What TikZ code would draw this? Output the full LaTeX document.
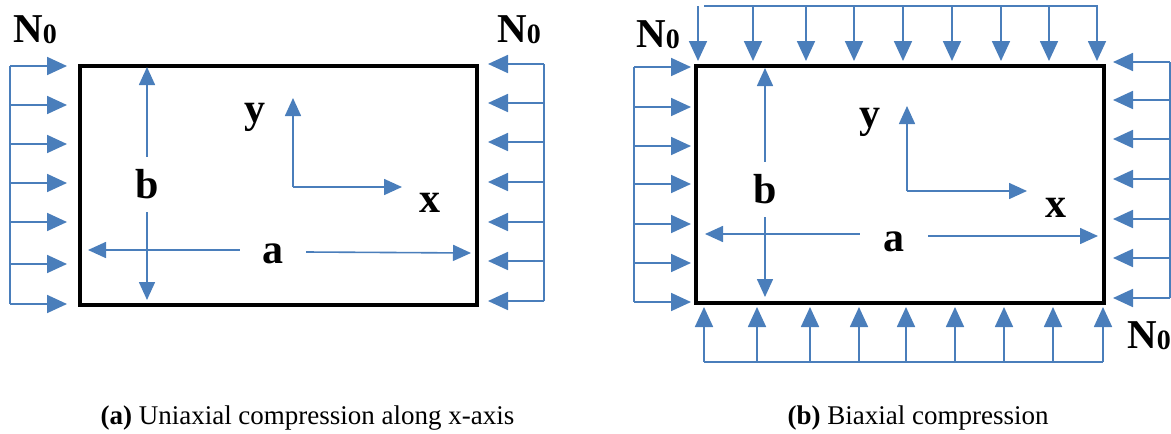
\documentclass[tikz,border=0pt]{standalone}
\usepackage{fontspec}
\setmainfont{Liberation Serif}
\usetikzlibrary{positioning,arrows.meta}
\definecolor{loadblue}{RGB}{74,126,187}
\newcommand{\Nzero}{N\raisebox{-1.5pt}{\fontsize{28}{28}\selectfont 0}}

\begin{document}
\begin{tikzpicture}[
	x=1pt,y=-1pt,
	plate/.style={
		draw=black,
		line width=3.5pt,
		inner sep=0pt
	},
	load/.style={-{Triangle[length=20pt,width=18pt]},color=loadblue,line width=1.8pt},
	spine/.style={draw=loadblue,line width=1.8pt},
	dim/.style={-{Triangle[length=18pt,width=16pt]},color=loadblue,line width=1.6pt},
	lbl/.style={font=\fontsize{42}{42}\selectfont\bfseries,inner sep=0pt},
	force/.style={font=\fontsize{41}{41}\selectfont\bfseries,inner sep=0pt,anchor=base},
	caption/.style={font=\fontsize{27}{27}\selectfont,inner sep=0pt,anchor=base}
	]
	
	\useasboundingbox (0,0) rectangle (1171,434);
	
	% (a) uniaxial
	\node[plate,minimum width=397pt,minimum height=239pt] (plateA) at (278.5,185.5) {};
	
	\draw[spine] (10,66) -- (10,304);
	\foreach \y in {66,105,144,183,222,264,304}
		\draw[load] (10,\y) -- (67,\y);
	
	\draw[spine] (544,64) -- (544,301);
	\foreach \y in {64,103,142,182,222,261,301}
		\draw[load] (544,\y) -- (488,\y);
	
	\node[force] (nAleft) at (35,42) {\Nzero};
	\node[force] (nAright) at (519,42) {\Nzero};
	
	\node[lbl,minimum height=55pt] (bA) at (147,184.5) {b};
	\coordinate (bAtop) at (147,67);
	\coordinate (bAbot) at (147,300);
	\draw[dim] (bA) -- (bAtop);
	\draw[dim] (bA) -- (bAbot);
	
	\node[lbl,minimum width=66pt] (aA) at (273,254) {a};
	\coordinate (aAleft) at (88,250);
	\coordinate (aAright) at (471,253);
	\draw[dim] (aA.west |- aAleft) -- (aAleft);
	\draw[dim] (aA.east |- 0,252) -- (aAright);
	
	\coordinate (oA) at (293,187);
	\coordinate (yAtip) at (293,98);
	\coordinate (xAtip) at (402,187);
	\draw[dim] (oA) -- (yAtip);
	\draw[dim] (oA) -- (xAtip);
	\node[lbl] (yA) at (255,117) {y};
	\node[lbl] (xA) at (430,203) {x};
	
	\node[caption] (capA) at (307.5,424) {\textbf{(a)} Uniaxial compression along x-axis};
	
	% (b) biaxial
	\node[plate,minimum width=408pt,minimum height=237pt] (plateB) at (900,184.5) {};
	
	\draw[spine] (634,67) -- (634,302);
	\foreach \y in {67,107,146,184,224,263,302}
		\draw[load] (634,\y) -- (691,\y);
	
	\draw[spine] (1170,62) -- (1170,298);
	\foreach \y in {62,100,139,179,219,258,298}
		\draw[load] (1170,\y) -- (1113,\y);
	
	\draw[spine] (704,6) -- (1098,6);
	\foreach \x in {698,753,806,854,903,952,1001,1049,1097}
		\draw[load] (\x,6) -- (\x,61);
	
	\draw[spine] (704,362) -- (1103,362);
	\foreach \x in {704,757,810,859,906,955,1004,1053,1103}
		\draw[load] (\x,362) -- (\x,307);
	
	\node[force] (nBtop) at (658,47) {\Nzero};
	\node[force] (nBbot) at (1149,348) {\Nzero};
	
	\node[lbl,minimum height=55pt] (bB) at (765,189.5) {b};
	\coordinate (bBtop) at (765,68);
	\coordinate (bBbot) at (765,297);
	\draw[dim] (bB) -- (bBtop);
	\draw[dim] (bB) -- (bBbot);
	
	\node[lbl,minimum width=68pt] (aB) at (894,241.5) {a};
	\coordinate (aBleft) at (705,234);
	\coordinate (aBright) at (1098,236);
	\draw[dim] (aB.west |- aBleft) -- (aBleft);
	\draw[dim] (aB.east |- aBright) -- (aBright);
	
	\coordinate (oB) at (907,191);
	\coordinate (yBtip) at (907,106);
	\coordinate (xBtip) at (1027,191);
	\draw[dim] (oB) -- (yBtip);
	\draw[dim] (oB) -- (xBtip);
	\node[lbl] (yB) at (870,122) {y};
	\node[lbl] (xB) at (1056,208) {x};
	
	\node[caption] (capB) at (918,424) {\textbf{(b)} Biaxial compression};
	
\end{tikzpicture}
\end{document}
